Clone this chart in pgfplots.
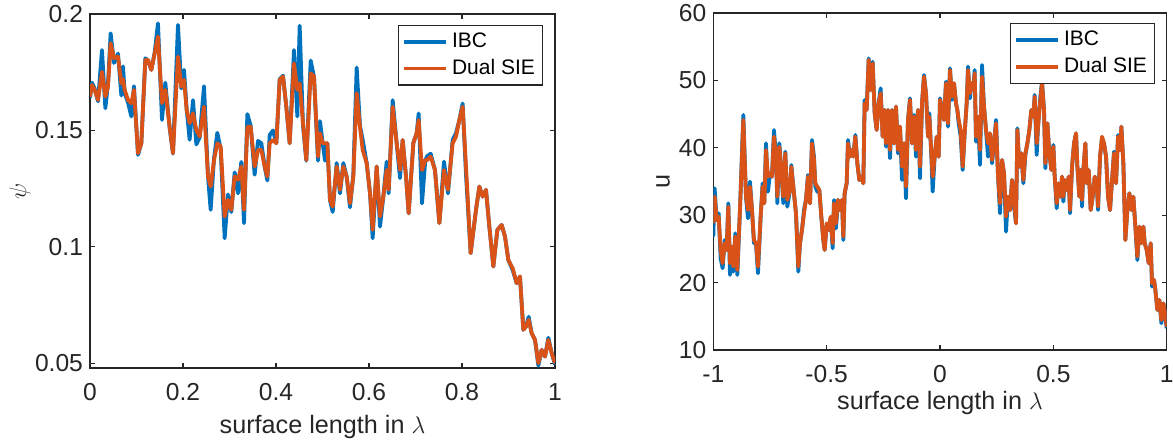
\documentclass[border=0pt]{standalone}
\usepackage{fontspec}
\setmainfont{Liberation Sans}
\usepackage{pgfplots}
\pgfplotsset{compat=1.18}
\usepackage{pgfplotstable}
\definecolor{mblue}{rgb}{0,0.447,0.741}
\definecolor{morange}{rgb}{0.85,0.325,0.098}
\definecolor{axgray}{rgb}{0.15,0.15,0.15}

\pgfplotstableread{
x ibc dual
0.0000 0.1640 0.1645
0.0043 0.1705 0.1695
0.0100 0.1680 0.1674
0.0172 0.1625 0.1631
0.0258 0.1845 0.1752
0.0330 0.1595 0.1645
0.0387 0.1700 0.1688
0.0444 0.1917 0.1874
0.0516 0.1790 0.1810
0.0602 0.1830 0.1817
0.0674 0.1650 0.1702
0.0710 0.1775 0.1720
0.0746 0.1660 0.1674
0.0817 0.1620 0.1631
0.0889 0.1560 0.1617
0.0946 0.1690 0.1674
0.1032 0.1395 0.1402
0.1104 0.1445 0.1445
0.1190 0.1810 0.1803
0.1247 0.1800 0.1803
0.1319 0.1760 0.1760
0.1391 0.1835 0.1831
0.1462 0.1960 0.1903
0.1548 0.1545 0.1617
0.1620 0.1705 0.1674
0.1713 0.1510 0.1516
0.1785 0.1400 0.1402
0.1892 0.1953 0.1817
0.1964 0.1680 0.1688
0.2022 0.1760 0.1717
0.2079 0.1590 0.1588
0.2143 0.1460 0.1531
0.2215 0.1630 0.1574
0.2287 0.1440 0.1502
0.2358 0.1470 0.1474
0.2452 0.1690 0.1602
0.2538 0.1300 0.1302
0.2595 0.1159 0.1259
0.2667 0.1380 0.1373
0.2738 0.1490 0.1445
0.2810 0.1420 0.1431
0.2896 0.1037 0.1130
0.2968 0.1225 0.1202
0.3039 0.1150 0.1159
0.3111 0.1320 0.1302
0.3183 0.1230 0.1288
0.3254 0.1365 0.1345
0.3312 0.1102 0.1159
0.3384 0.1570 0.1516
0.3455 0.1520 0.1516
0.3541 0.1310 0.1345
0.3613 0.1455 0.1416
0.3685 0.1445 0.1416
0.3756 0.1345 0.1345
0.3814 0.1285 0.1302
0.3864 0.1480 0.1445
0.3935 0.1500 0.1459
0.4007 0.1445 0.1445
0.4079 0.1720 0.1717
0.4151 0.1735 0.1731
0.4222 0.1600 0.1602
0.4294 0.1445 0.1445
0.4387 0.1845 0.1788
0.4459 0.1560 0.1674
0.4509 0.1950 0.1702
0.4581 0.1520 0.1531
0.4652 0.1370 0.1373
0.4746 0.1800 0.1745
0.4817 0.1730 0.1731
0.4903 0.1370 0.1388
0.4946 0.1540 0.1488
0.5004 0.1445 0.1445
0.5054 0.1370 0.1445
0.5104 0.1445 0.1445
0.5161 0.1200 0.1202
0.5219 0.1150 0.1173
0.5305 0.1360 0.1345
0.5376 0.1230 0.1245
0.5448 0.1360 0.1345
0.5520 0.1300 0.1302
0.5591 0.1170 0.1187
0.5663 0.1310 0.1302
0.5735 0.1770 0.1660
0.5806 0.1520 0.1516
0.5864 0.1460 0.1416
0.5950 0.1360 0.1359
0.6022 0.1230 0.1230
0.6079 0.1037 0.1073
0.6165 0.1345 0.1345
0.6237 0.1087 0.1130
0.6308 0.1216 0.1216
0.6380 0.1366 0.1330
0.6423 0.1230 0.1245
0.6509 0.1630 0.1602
0.6595 0.1445 0.1445
0.6667 0.1295 0.1330
0.6724 0.1459 0.1459
0.6796 0.1302 0.1302
0.6853 0.1144 0.1144
0.6953 0.1445 0.1445
0.7025 0.1488 0.1488
0.7068 0.1573 0.1545
0.7140 0.1187 0.1330
0.7211 0.1373 0.1373
0.7254 0.1390 0.1373
0.7326 0.1400 0.1388
0.7419 0.1330 0.1330
0.7513 0.1102 0.1102
0.7613 0.1366 0.1330
0.7699 0.1230 0.1245
0.7799 0.1460 0.1445
0.7871 0.1488 0.1474
0.7943 0.1545 0.1545
0.8014 0.1616 0.1602
0.8086 0.1310 0.1345
0.8186 0.0973 0.0973
0.8301 0.1159 0.1159
0.8373 0.1259 0.1259
0.8444 0.1216 0.1216
0.8516 0.1245 0.1245
0.8588 0.1087 0.1087
0.8674 0.0916 0.0916
0.8760 0.1073 0.1073
0.8853 0.1094 0.1094
0.8925 0.1044 0.1044
0.8996 0.0944 0.0944
0.9090 0.0900 0.0908
0.9176 0.0844 0.0844
0.9247 0.0873 0.0873
0.9319 0.0644 0.0644
0.9376 0.0658 0.0658
0.9434 0.0700 0.0687
0.9498 0.0629 0.0629
0.9570 0.0601 0.0601
0.9642 0.0490 0.0501
0.9713 0.0558 0.0558
0.9785 0.0529 0.0529
0.9857 0.0610 0.0601
0.9928 0.0544 0.0544
1.0000 0.0495 0.0501
}\leftdata

\pgfplotstableread{
x ibc dual
-1.0000 26.82 28.79
-0.9941 33.99 32.75
-0.9853 29.29 29.29
-0.9765 30.28 29.78
-0.9676 23.60 24.84
-0.9588 22.12 22.86
-0.9500 26.32 25.83
-0.9412 24.84 24.84
-0.9338 31.76 31.27
-0.9265 21.13 22.86
-0.9176 25.33 25.33
-0.9118 21.62 22.37
-0.9029 27.31 26.82
-0.8941 21.13 21.87
-0.8824 30.77 30.77
-0.8676 44.87 44.13
-0.8559 32.75 32.75
-0.8471 29.54 30.77
-0.8382 34.98 34.24
-0.8294 30.77 30.77
-0.8206 25.83 26.32
-0.8118 25.83 25.83
-0.8029 21.38 22.37
-0.7912 29.78 29.78
-0.7824 34.73 34.24
-0.7750 31.76 31.76
-0.7676 40.66 39.67
-0.7588 33.49 35.72
-0.7500 36.21 36.21
-0.7412 35.72 35.72
-0.7324 42.64 41.65
-0.7235 38.69 38.69
-0.7176 31.76 32.75
-0.7088 40.66 40.17
-0.7000 36.71 36.71
-0.6912 31.76 32.75
-0.6824 39.43 39.18
-0.6735 31.27 32.26
-0.6618 33.74 33.74
-0.6559 37.45 37.20
-0.6471 34.24 34.24
-0.6353 30.28 30.28
-0.6250 21.62 22.37
-0.6176 25.83 25.83
-0.6088 27.81 27.81
-0.6000 30.77 30.28
-0.5912 32.26 32.26
-0.5824 35.97 35.72
-0.5735 31.76 31.76
-0.5647 41.16 40.66
-0.5559 38.69 38.19
-0.5500 34.24 34.73
-0.5412 33.49 34.24
-0.5324 33.74 33.74
-0.5235 29.78 29.78
-0.5147 26.32 26.32
-0.5088 24.84 24.84
-0.5000 28.55 28.79
-0.4912 27.81 27.81
-0.4824 29.54 29.78
-0.4735 25.09 25.83
-0.4676 32.26 31.76
-0.4588 28.05 28.79
-0.4500 32.26 32.26
-0.4412 30.77 30.77
-0.4324 32.26 32.26
-0.4265 26.32 26.82
-0.4206 33.25 33.25
-0.4118 34.73 34.73
-0.4059 41.16 40.66
-0.3971 38.69 38.69
-0.3882 39.67 39.67
-0.3824 38.69 38.69
-0.3735 41.90 41.65
-0.3647 37.70 37.70
-0.3559 35.22 35.22
-0.3471 35.72 35.72
-0.3382 34.73 34.73
-0.3324 47.10 46.60
-0.3235 45.61 45.61
-0.3147 53.27 53.03
-0.3059 48.58 48.58
-0.2971 52.78 52.53
-0.2882 45.12 45.12
-0.2794 42.64 42.64
-0.2706 46.60 46.60
-0.2618 48.83 48.08
-0.2529 41.65 41.65
-0.2441 45.61 45.61
-0.2382 40.17 40.66
-0.2294 45.61 45.61
-0.2206 38.44 39.67
-0.2118 45.61 45.61
-0.2029 40.66 40.66
-0.1941 46.11 46.11
-0.1853 39.18 39.67
-0.1765 43.14 43.14
-0.1676 35.22 37.20
-0.1588 40.66 40.66
-0.1500 32.50 34.24
-0.1412 44.13 44.13
-0.1324 47.34 47.10
-0.1235 40.66 40.66
-0.1147 44.87 44.62
-0.1059 38.69 39.67
-0.0971 45.61 45.61
-0.0882 35.47 37.20
-0.0794 46.60 46.60
-0.0706 50.80 50.55
-0.0618 48.08 48.08
-0.0529 41.65 41.65
-0.0471 45.12 44.62
-0.0382 38.69 39.18
-0.0324 33.49 35.72
-0.0235 38.69 38.69
-0.0147 41.65 41.65
-0.0059 38.69 38.69
0.0000 47.34 47.10
0.0088 45.61 45.61
0.0176 44.13 44.13
0.0265 49.81 49.57
0.0353 43.14 43.63
0.0441 51.79 51.54
0.0529 47.10 47.59
0.0618 49.57 49.57
0.0706 46.60 46.60
0.0765 45.61 45.61
0.0824 43.63 44.13
0.0912 41.65 42.64
0.1000 36.71 37.20
0.1088 42.15 42.15
0.1176 46.60 46.60
0.1235 52.04 51.54
0.1324 47.34 48.08
0.1382 49.57 49.57
0.1471 48.58 48.58
0.1529 51.54 51.05
0.1588 40.91 41.65
0.1676 44.62 44.62
0.1765 37.45 39.67
0.1853 52.29 50.55
0.1941 46.11 46.11
0.2029 42.64 42.64
0.2118 38.69 40.66
0.2206 42.15 42.15
0.2294 37.70 38.19
0.2382 40.66 40.66
0.2471 44.13 43.63
0.2559 35.72 35.72
0.2647 30.28 31.76
0.2735 38.19 38.19
0.2824 36.21 36.21
0.2912 27.56 29.78
0.3000 32.75 32.75
0.3088 30.77 30.77
0.3176 35.22 35.22
0.3265 31.27 32.26
0.3353 28.79 28.79
0.3412 42.89 42.64
0.3500 37.20 37.20
0.3588 39.18 39.18
0.3676 34.73 35.22
0.3765 38.93 39.18
0.3853 40.66 40.66
0.3941 42.64 42.64
0.4029 45.61 45.61
0.4118 44.62 44.62
0.4176 47.84 47.59
0.4265 38.93 40.66
0.4324 43.14 43.14
0.4412 47.10 46.60
0.4500 49.81 49.57
0.4588 45.61 45.61
0.4647 36.96 37.70
0.4735 43.63 43.63
0.4824 39.18 39.18
0.4912 36.71 36.71
0.5000 40.42 40.17
0.5059 35.72 35.72
0.5147 31.02 31.76
0.5235 34.73 34.73
0.5324 32.75 32.75
0.5382 35.72 35.72
0.5441 32.01 32.75
0.5500 35.22 35.22
0.5588 33.74 33.74
0.5676 35.72 35.72
0.5735 30.28 30.77
0.5824 37.20 37.20
0.5912 40.66 40.66
0.6000 42.15 42.15
0.6059 37.20 37.20
0.6147 32.75 32.75
0.6206 36.71 36.71
0.6265 31.27 32.26
0.6324 36.71 36.71
0.6412 40.66 40.66
0.6471 34.73 34.73
0.6559 36.71 36.71
0.6647 30.77 30.77
0.6735 32.75 32.75
0.6824 35.72 35.72
0.6912 34.73 34.73
0.6971 30.77 31.27
0.7059 38.69 38.69
0.7147 41.41 41.65
0.7235 40.66 40.66
0.7324 38.69 38.69
0.7412 32.75 32.75
0.7500 30.77 30.77
0.7588 35.22 35.22
0.7676 39.43 39.18
0.7765 34.73 34.73
0.7853 41.90 41.65
0.7941 39.67 39.67
0.8000 43.14 43.14
0.8088 37.70 37.70
0.8176 26.32 26.32
0.8265 30.77 30.77
0.8353 33.25 33.25
0.8441 30.77 30.77
0.8529 32.75 32.75
0.8618 28.30 28.30
0.8706 23.35 23.85
0.8794 28.30 28.30
0.8882 25.83 25.83
0.8971 28.30 28.30
0.9029 25.83 25.83
0.9118 24.84 24.84
0.9206 22.86 22.86
0.9294 25.83 25.83
0.9353 19.40 19.89
0.9441 20.39 20.39
0.9500 18.90 18.90
0.9588 15.94 15.94
0.9676 17.42 17.42
0.9765 13.96 14.45
0.9853 16.92 16.92
0.9941 14.95 14.95
1.0000 13.21 13.46
}\rightdata

\pgfplotsset{mstyle/.style={
  scale only axis,
  axis line style={axgray, line width=0.6pt},
  tick style={axgray, line width=0.6pt},
  tick align=inside,
  major tick length=2.5pt,
  ticklabel style={font=\fontsize{12.3}{14}\selectfont, text=axgray},
  xticklabel style={yshift=-4.3pt},
  label style={font=\fontsize{12.6}{14}\selectfont, text=axgray},
  /pgf/number format/assume math mode=true,
  legend cell align=left,
  legend image code/.code={\draw[##1] (0pt,0pt) -- (21pt,0pt);},
  legend style={font=\fontsize{10.5}{12}\selectfont, draw=axgray, line width=0.6pt,
    inner xsep=1.5pt, inner ysep=1.5pt, anchor=north east, nodes={inner sep=2.2pt}},
  every axis plot/.append style={line width=1.9pt, line join=round, mark=none},
}}

\begin{document}
\begin{tikzpicture}
\useasboundingbox (0pt,0pt) rectangle (586.5pt,221.5pt);
\begin{axis}[mstyle,
  at={(45pt,37.5pt)}, anchor=south west,
  width=232.5pt, height=177pt,
  xmin=0, xmax=1, ymin=0.048, ymax=0.2,
  xtick={0,0.2,0.4,0.6,0.8,1}, xticklabels={0,0.2,0.4,0.6,0.8,1},
  ytick={0.05,0.1,0.15,0.2}, yticklabels={0.05,0.1,0.15,0.2},
  xlabel={surface length in $\lambda$},
  xlabel style={at={(axis description cs:0.5,-0.1667)}, anchor=center},
  ylabel={$\psi$},
  ylabel style={at={(axis description cs:-0.1505,0.5)}, anchor=center},
  legend style={at={(0.974,0.969)}},
]
\addplot[mblue] table[x=x, y=ibc] {\leftdata};
\addplot[morange] table[x=x, y=dual] {\leftdata};
\legend{IBC, Dual SIE}
\end{axis}
\begin{axis}[mstyle,
  at={(356.65pt,46.5pt)}, anchor=south west,
  width=226.7pt, height=168.5pt,
  xmin=-1, xmax=1, ymin=10, ymax=60,
  xtick={-1,-0.5,0,0.5,1}, xticklabels={-1,-0.5,0,0.5,1},
  ytick={10,20,30,40,50,60}, yticklabels={10,20,30,40,50,60},
  xlabel={surface length in $\lambda$},
  xlabel style={at={(axis description cs:0.5,-0.157)}, anchor=center},
  ylabel={u},
  ylabel style={at={(axis description cs:-0.111,0.5)}, anchor=center},
  legend style={at={(0.974,0.970)}},
]
\addplot[mblue] table[x=x, y=ibc] {\rightdata};
\addplot[morange] table[x=x, y=dual] {\rightdata};
\legend{IBC, Dual SIE}
\end{axis}
\end{tikzpicture}
\end{document}
